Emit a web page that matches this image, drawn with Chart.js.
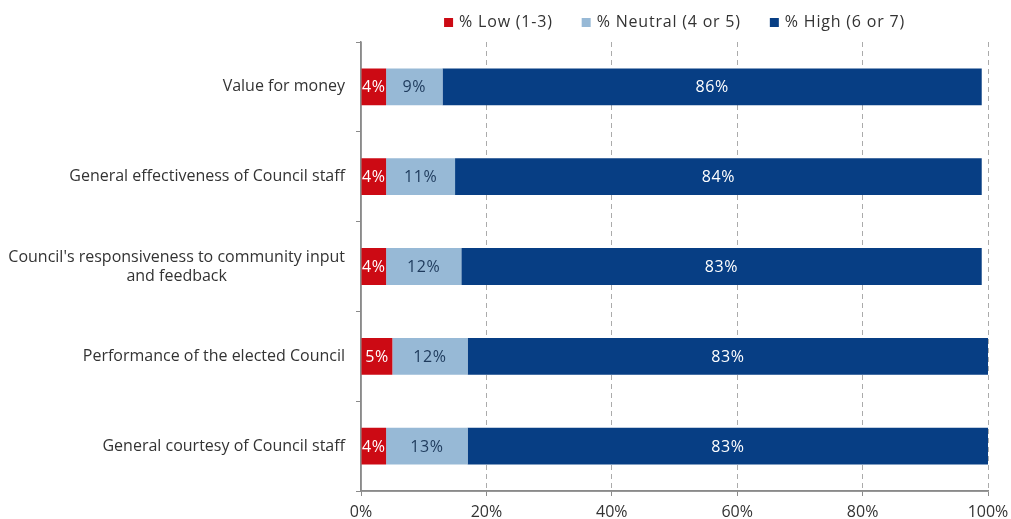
<!DOCTYPE html>
<html>
<head>
<meta charset="utf-8">
<title>Council ratings</title>
<script src="https://cdn.jsdelivr.net/npm/chart.js@4.4.1/dist/chart.umd.min.js"></script>
<style>
    html, body { margin: 0; padding: 0; background: #fff; }
    #wrap { width: 1011px; height: 519px; }
</style>
</head>
<body>
<div id="wrap"><canvas id="ratingsChart" width="1011" height="519"></canvas></div>
<script>
var categories = [
    'Value for money',
    'General effectiveness of Council staff',
    ["Council's responsiveness to community input", 'and feedback'],
    'Performance of the elected Council',
    'General courtesy of Council staff'
];
var seriesNames = ['% Low (1-3)', '% Neutral (4 or 5)', '% High (6 or 7)'];
var lowValues = [4, 4, 4, 5, 4];
var neutralValues = [9, 11, 12, 12, 13];
var highValues = [86, 84, 83, 83, 83];
var xTicks = [0, 20, 40, 60, 80, 100];

var FONT = '"Open Sans", "Liberation Sans", sans-serif';
var TEXT = '#333333';
var AXIS = '#8A8A8A';

// value text in the middle of every bar segment
var segmentLabels = {
    id: 'segmentLabels',
    afterDatasetsDraw: function(chart) {
        var ctx = chart.ctx;
        ctx.save();
        ctx.font = '16px ' + FONT;
        ctx.letterSpacing = '0.6px';
        ctx.textAlign = 'center';
        ctx.textBaseline = 'middle';
        chart.data.datasets.forEach(function(ds, i) {
            var meta = chart.getDatasetMeta(i);
            meta.data.forEach(function(bar, j) {
                ctx.fillStyle = ds.textColor;
                ctx.fillText(ds.data[j] + '%', (bar.x + bar.base) / 2, bar.y + 1);
            });
        });
        ctx.restore();
    }
};

// solid axis lines on top of the dashed grid
var axisLines = {
    id: 'axisLines',
    beforeDatasetsDraw: function(chart) {
        var ctx = chart.ctx;
        var a = chart.chartArea;
        ctx.save();
        ctx.setLineDash([]);
        ctx.strokeStyle = AXIS;
        ctx.lineWidth = 1.5;
        ctx.beginPath();
        ctx.moveTo(a.left, a.top);
        ctx.lineTo(a.left, a.bottom);
        ctx.lineTo(a.right, a.bottom);
        ctx.stroke();
        ctx.restore();
    }
};

// category names: right edge at the axis, wrapped lines centred on each other
var categoryLabels = {
    id: 'categoryLabels',
    afterDraw: function(chart) {
        var ctx = chart.ctx;
        var yScale = chart.scales.y;
        var right = chart.chartArea.left - 16;
        ctx.save();
        ctx.font = '16px ' + FONT;
        ctx.fillStyle = TEXT;
        ctx.textAlign = 'center';
        ctx.textBaseline = 'middle';
        categories.forEach(function(cat, i) {
            var lines = Array.isArray(cat) ? cat : [cat];
            var maxW = 0;
            lines.forEach(function(l) { maxW = Math.max(maxW, ctx.measureText(l).width); });
            var cy = yScale.getPixelForValue(i);
            var lh = 19;
            lines.forEach(function(l, k) {
                ctx.fillText(l, right - maxW / 2, cy + (k - (lines.length - 1) / 2) * lh);
            });
        });
        ctx.restore();
    }
};

// legend row above the plot, centred on the chart area
var topLegend = {
    id: 'topLegend',
    afterDraw: function(chart) {
        var ctx = chart.ctx;
        var box = 9, gapText = 6, gapItem = 29;
        ctx.save();
        ctx.font = '16px ' + FONT;
        ctx.letterSpacing = '0.8px';
        ctx.textBaseline = 'middle';
        ctx.textAlign = 'left';
        var items = chart.data.datasets.map(function(ds) {
            return { text: ds.label, color: ds.backgroundColor, w: ctx.measureText(ds.label).width };
        });
        var total = 0;
        items.forEach(function(it, i) { total += box + gapText + it.w + (i ? gapItem : 0); });
        var area = chart.chartArea;
        var x = (area.left + area.right) / 2 - total / 2;
        var y = 22.5;
        items.forEach(function(it) {
            ctx.fillStyle = it.color;
            ctx.fillRect(x, y - box / 2, box, box);
            ctx.fillStyle = TEXT;
            ctx.fillText(it.text, x + box + gapText, y);
            x += box + gapText + it.w + gapItem;
        });
        ctx.restore();
    }
};

var ctx = document.getElementById('ratingsChart').getContext('2d');
new Chart(ctx, {
    type: 'bar',
    data: {
        labels: categories,
        datasets: [
            { label: seriesNames[0], data: lowValues, backgroundColor: '#CC0A14', textColor: '#ffffff' },
            { label: seriesNames[1], data: neutralValues, backgroundColor: '#97B9D6', textColor: '#1E3A5C' },
            { label: seriesNames[2], data: highValues, backgroundColor: '#073E84', textColor: '#ffffff' }
        ]
    },
    options: {
        indexAxis: 'y',
        responsive: false,
        animation: false,
        layout: { padding: { top: 42, right: 23, left: 0, bottom: 0 } },
        datasets: {
            bar: { categoryPercentage: 1, barPercentage: 0.41 }
        },
        plugins: {
            legend: { display: false },
            tooltip: { enabled: false }
        },
        scales: {
            x: {
                stacked: true,
                min: 0,
                max: 100,
                afterBuildTicks: function(scale) {
                    scale.ticks = xTicks.map(function(v) { return { value: v }; });
                },
                afterFit: function(scale) {
                    scale.height = 28;
                    scale.paddingLeft = 0;
                    scale.paddingRight = 0;
                },
                ticks: {
                    callback: function(v) { return v + '%'; },
                    font: { size: 16, family: FONT },
                    color: TEXT,
                    padding: 7,
                    maxRotation: 0
                },
                grid: {
                    color: function(c) { return c.tick && c.tick.value === 0 ? 'rgba(0,0,0,0)' : '#ABABAB'; },
                    tickBorderDash: [],
                    tickLength: 5,
                    tickColor: AXIS
                },
                border: { color: AXIS, width: 1.5, dash: [5, 4] }
            },
            y: {
                stacked: true,
                afterFit: function(scale) { scale.width = 361; },
                ticks: { display: false },
                grid: {
                    offset: true,
                    drawOnChartArea: false,
                    tickLength: 5,
                    color: AXIS
                },
                border: { color: AXIS, width: 1.5 }
            }
        }
    },
    plugins: [axisLines, segmentLabels, categoryLabels, topLegend]
});
</script>
</body>
</html>
